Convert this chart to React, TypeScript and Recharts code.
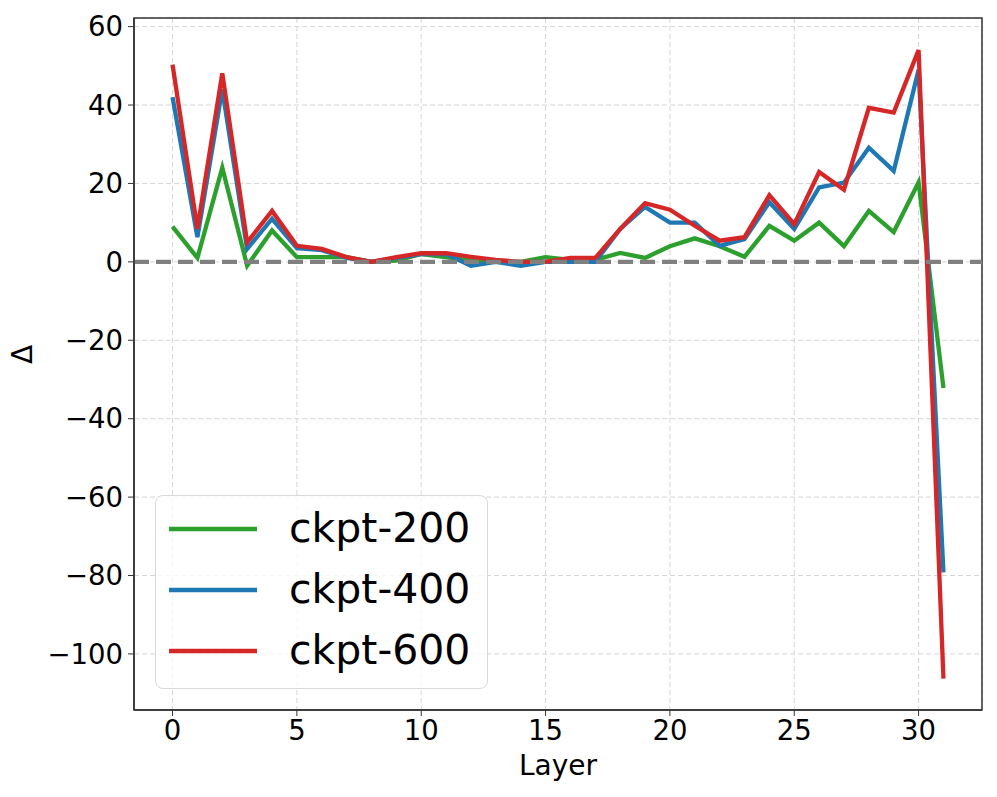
import { LineChart, Line, XAxis, YAxis, CartesianGrid, ReferenceLine, ReferenceArea } from "recharts";

const layers = [0, 1, 2, 3, 4, 5, 6, 7, 8, 9, 10, 11, 12, 13, 14, 15, 16, 17, 18, 19, 20, 21, 22, 23, 24, 25, 26, 27, 28, 29, 30, 31];
const ckpt200 = [9, 1, 24, -1, 8, 1.2, 1.2, 1.2, 0, 0.3, 2, 1.2, 0.3, 0, 0, 1.2, 0.5, 0.5, 2.3, 1, 4, 6, 4, 1.3, 9.2, 5.4, 10, 4, 13, 7.6, 20.3, -32.2];
const ckpt400 = [42, 6.3, 44, 3.3, 11, 3.5, 3, 1, 0, 1, 2, 2, -1, 0, -1, 0, 0, 0, 8.4, 14, 10, 10, 4.1, 5.8, 15.2, 8.4, 19, 20.2, 29.1, 23.2, 49, -79.2];
const ckpt600 = [50.3, 8.4, 48.1, 5, 13, 4.1, 3.3, 1.2, 0, 1.2, 2.2, 2.2, 1.3, 0.5, 0, 0, 1, 1, 8.4, 15, 13.3, 9.2, 5.4, 6.3, 17, 9.6, 22.9, 18.4, 39.3, 38.1, 54, -106.3];

const xTicks = [0, 5, 10, 15, 20, 25, 30];
const yTicks = [-100, -80, -60, -40, -20, 0, 20, 40, 60];
const xDomain = [-1.55, 32.55];
const yDomain = [-114.3, 62.2];

const series = [
  { key: "ckpt200", name: "ckpt-200", color: "#2ca02c" },
  { key: "ckpt400", name: "ckpt-400", color: "#1f77b4" },
  { key: "ckpt600", name: "ckpt-600", color: "#d62728" },
];

const data = layers.map((layer, i) => ({
  layer,
  ckpt200: ckpt200[i],
  ckpt400: ckpt400[i],
  ckpt600: ckpt600[i],
}));

const FONT = "DejaVu Sans, sans-serif";
const tickStyle = { fill: "#000", fontSize: 27.5, fontFamily: FONT };
const minus = (v: number) => String(v).replace("-", "\u2212");

export default function App() {
  return (
    <div style={{ position: "absolute", left: 0, top: 0, width: 997, height: 797, background: "#fff" }}>
      <LineChart width={997} height={797} data={data} margin={{ top: 18, right: 15, left: 0, bottom: 0 }}>
        <CartesianGrid stroke="#d6d6d6" strokeDasharray="5 3" />
        <XAxis
          dataKey="layer"
          type="number"
          domain={xDomain}
          allowDataOverflow
          ticks={xTicks}
          height={87}
          tick={tickStyle}
          tickSize={6}
          tickMargin={4}
          tickLine={{ stroke: "#333" }}
          axisLine={{ stroke: "#333", strokeWidth: 1.5 }}
          label={{ value: "Layer", position: "insideBottom", offset: 22, fill: "#000", fontSize: 28, fontFamily: FONT }}
        />
        <YAxis
          type="number"
          domain={yDomain}
          allowDataOverflow
          ticks={yTicks}
          width={134}
          tick={tickStyle}
          tickSize={6}
          tickMargin={5}
          tickFormatter={minus}
          tickLine={{ stroke: "#333" }}
          axisLine={{ stroke: "#333", strokeWidth: 1.5 }}
          label={{ value: "\u0394", angle: -90, position: "insideLeft", offset: 22, fill: "#000", fontSize: 28, fontFamily: FONT }}
        />
        <ReferenceArea
          x1={xDomain[0]}
          x2={xDomain[1]}
          y1={yDomain[0]}
          y2={yDomain[1]}
          fill="none"
          stroke="#333"
          strokeWidth={1.5}
          ifOverflow="visible"
        />
        {series.map((s) => (
          <Line
            key={s.key}
            dataKey={s.key}
            name={s.name}
            stroke={s.color}
            strokeWidth={4.3}
            dot={false}
            activeDot={false}
            type="linear"
            isAnimationActive={false}
          />
        ))}
        <ReferenceLine y={0} stroke="#808080" strokeWidth={4.2} strokeDasharray="15 7" />
      </LineChart>
      <div
        style={{
          position: "absolute",
          left: 155,
          top: 495,
          width: 333,
          height: 194,
          boxSizing: "border-box",
          border: "1.5px solid #d9d9d9",
          borderRadius: 8,
          background: "rgba(255,255,255,0.8)",
          paddingTop: 2,
          paddingLeft: 13,
        }}
      >
        {series.map((s) => (
          <div key={s.key} style={{ display: "flex", alignItems: "center", height: 61 }}>
            <svg width={88} height={8} style={{ display: "block" }}>
              <line x1={0} y1={4} x2={88} y2={4} stroke={s.color} strokeWidth={4.5} />
            </svg>
            <span style={{ marginLeft: 32, fontFamily: FONT, fontSize: 41, color: "#000", lineHeight: "61px" }}>{s.name}</span>
          </div>
        ))}
      </div>
    </div>
  );
}
